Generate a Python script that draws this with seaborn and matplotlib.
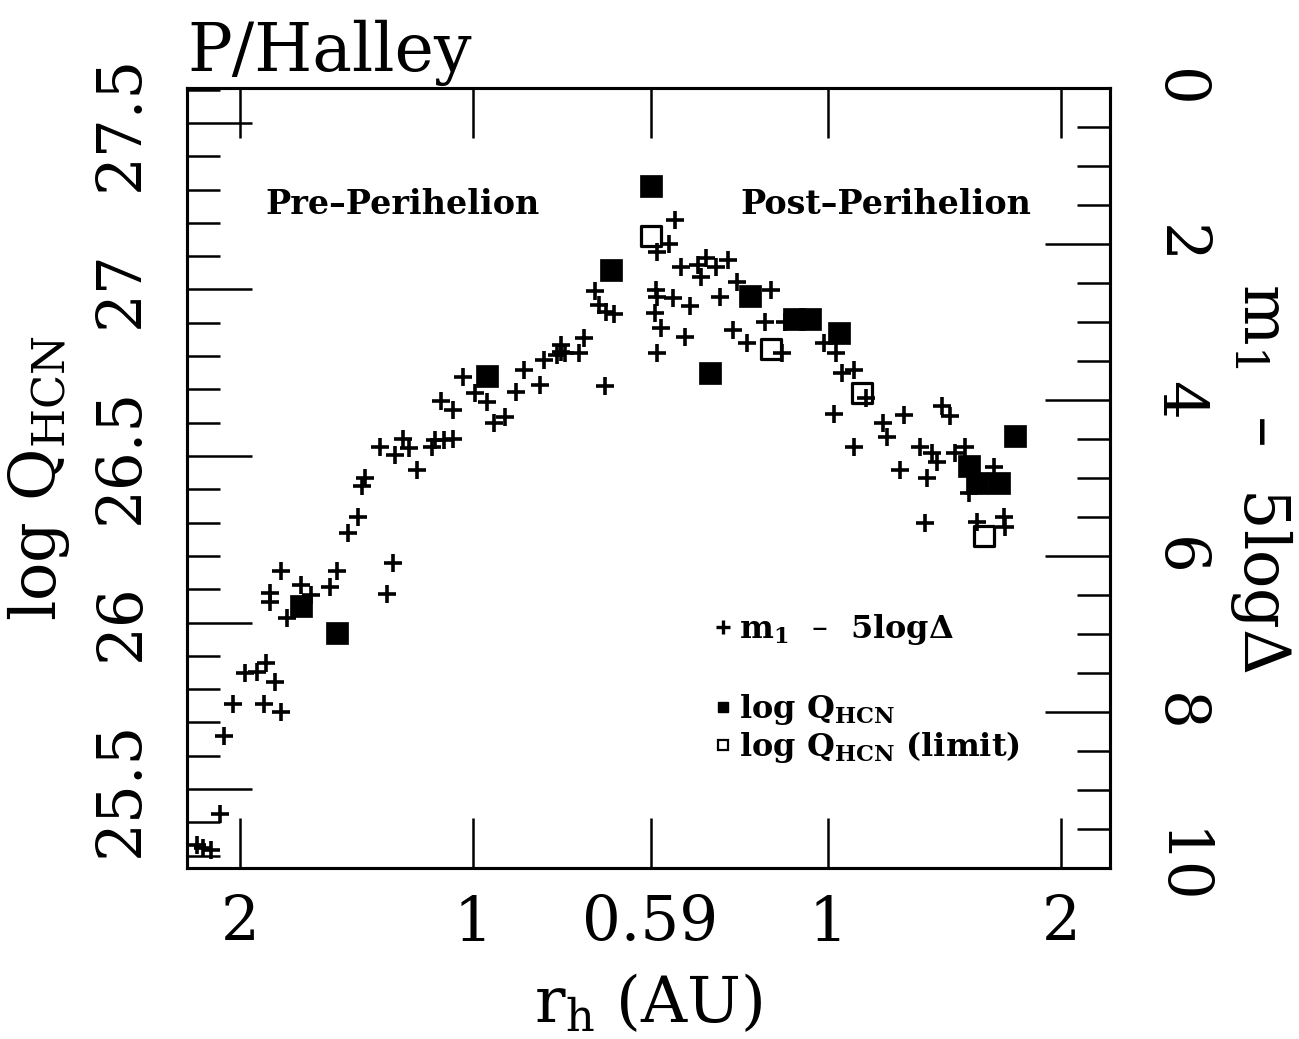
import numpy as np
import pandas as pd
import matplotlib
matplotlib.use("Agg")
import matplotlib.pyplot as plt
import seaborn as sns
from matplotlib.ticker import MultipleLocator, NullLocator, FuncFormatter
from matplotlib.lines import Line2D

sns.set_theme(style="ticks")
plt.rcParams["font.family"] = ["DejaVu Serif"]
plt.rcParams["mathtext.default"] = "regular"
plt.rcParams["axes.edgecolor"] = "black"
plt.rcParams["text.color"] = "black"
plt.rcParams["axes.labelcolor"] = "black"
plt.rcParams["xtick.color"] = "black"
plt.rcParams["ytick.color"] = "black"

# perihelion distance (AU), used to fold the two branches onto one axis
R_PERI = 0.59

# --- m1 - 5 log(Delta), pre-perihelion
pre_mag_r = [2.27, 2.23, 2.18, 2.12, 2.10, 2.04, 1.86, 1.77, 1.97, 1.90, 1.85, 1.80,
             1.74, 1.83, 1.83, 1.77, 1.67, 1.62, 1.53, 1.50, 1.29, 1.27, 1.45, 1.41,
             1.39, 1.38, 1.32, 1.26, 1.23, 1.21, 1.18, 1.13, 1.12, 1.09, 1.06, 1.10,
             1.06, 1.03, 0.995, 0.96, 0.94, 0.91, 0.88, 0.86, 0.82, 0.81, 0.78, 0.77,
             0.77, 0.76, 0.73, 0.72, 0.695, 0.687, 0.673, 0.658, 0.676]
pre_mag = [9.71, 9.74, 9.77, 9.31, 8.31, 7.90, 7.90, 8.00, 7.50, 7.49, 7.37, 7.62,
           6.79, 6.47, 6.59, 6.19, 6.37, 6.50, 6.40, 6.19, 6.49, 6.09, 5.71, 5.50,
           5.10, 5.00, 4.60, 4.71, 4.50, 4.62, 4.90, 4.60, 4.51, 4.51, 4.50, 4.01,
           4.13, 3.71, 3.91, 4.03, 4.29, 4.22, 3.90, 3.62, 3.81, 3.49, 3.42, 3.38,
           3.29, 3.40, 3.40, 3.21, 2.60, 2.78, 2.87, 2.90, 3.82]

# --- m1 - 5 log(Delta), post-perihelion
post_mag_r = [0.635, 0.624, 0.602, 0.645, 0.679, 0.695, 0.716, 0.685, 0.742, 0.764,
              0.599, 0.602, 0.630, 0.663, 0.726, 0.597, 0.608, 0.653, 0.602, 0.753,
              0.843, 0.828, 0.879, 0.787, 0.873, 0.989, 1.025, 1.044, 1.082, 1.019,
              1.176, 1.193, 1.255, 1.082, 1.405, 1.438, 1.316, 1.364, 1.384, 1.237,
              1.343, 1.504, 1.460, 1.640, 1.522, 1.336, 1.559, 1.689, 1.693, 1.118]
post_mag = [1.69, 2.00, 2.10, 2.29, 2.27, 2.18, 2.29, 2.42, 2.21, 2.49,
            2.59, 2.68, 2.69, 2.79, 2.68, 2.88, 3.08, 3.19, 3.40, 3.10,
            2.59, 3.00, 3.00, 3.27, 3.40, 3.27, 3.40, 3.65, 3.62, 4.18,
            4.29, 4.47, 4.19, 4.60, 4.08, 4.21, 4.60, 4.68, 4.79, 4.90,
            5.00, 4.60, 4.68, 4.86, 5.19, 5.58, 5.56, 5.50, 5.63, 3.97]

# --- log Q(HCN) detections
pre_q_r = [1.67, 1.50, 0.96, 0.664, 0.59]
pre_q = [26.05, 25.97, 26.74, 27.06, 27.31]
post_q_r = [0.705, 0.792, 0.905, 0.949, 1.034, 1.522, 1.559, 1.664, 1.745]
post_q = [26.75, 26.98, 26.91, 26.91, 26.87, 26.47, 26.42, 26.42, 26.56]

# --- log Q(HCN) limits (post-perihelion)
lim_q_r = [0.59, 0.843, 1.108, 1.592]
lim_q = [27.16, 26.82, 26.69, 26.26]

# x ticks: heliocentric distance on both branches
tick_r = [2, 1, 0.59, 1, 2]
tick_side = [-1, -1, 0, 1, 1]
tick_text = ["2", "1", "0.59", "1", "2"]


def fold(r, side):
    """signed log distance from perihelion: pre < 0 < post"""
    return side * np.log10(np.asarray(r, dtype=float) / R_PERI)


mag_df = pd.concat([
    pd.DataFrame({"x": fold(pre_mag_r, -1), "m": pre_mag}),
    pd.DataFrame({"x": fold(post_mag_r, 1), "m": post_mag}),
], ignore_index=True)
q_df = pd.concat([
    pd.DataFrame({"x": fold(pre_q_r, -1), "q": pre_q}),
    pd.DataFrame({"x": fold(post_q_r, 1), "q": post_q}),
], ignore_index=True)
lim_df = pd.DataFrame({"x": fold(lim_q_r, 1), "q": lim_q})

fig = plt.figure(figsize=(12.99, 10.39), dpi=100)
ax = fig.add_axes([0.144, 0.1646, 0.7105, 0.7507])
ax2 = ax.twinx()

sns.scatterplot(data=q_df, x="x", y="q", marker="s", s=256, color="black",
                edgecolor="black", linewidth=0.5, ax=ax, legend=False, zorder=3)
sns.scatterplot(data=lim_df, x="x", y="q", marker="s", s=196, facecolor="white",
                edgecolor="black", linewidth=2.3, ax=ax, legend=False, zorder=3)
sns.scatterplot(data=mag_df, x="x", y="m", marker="+", s=150, color="black",
                linewidth=2.6, ax=ax2, legend=False, zorder=2)

# x axis
ax.set_xlim(-0.5985, 0.5933)
ax.set_xticks([float(fold(r, s)) if s else 0.0 for r, s in zip(tick_r, tick_side)])
ax.set_xticklabels(tick_text)
ax.xaxis.set_minor_locator(NullLocator())
ax.tick_params(axis="x", which="major", direction="in", length=36, width=1.8,
               top=True, bottom=True, labelsize=44, pad=18, color="black")

# left axis
ax.set_ylim(25.263, 27.605)
ax.yaxis.set_major_locator(MultipleLocator(0.5))
ax.yaxis.set_minor_locator(MultipleLocator(0.1))
ax.yaxis.set_major_formatter(FuncFormatter(lambda v, p: f"{v:g}"))
ax.tick_params(axis="y", which="major", direction="in", length=47, width=1.8,
               labelsize=44, pad=26, labelrotation=90, color="black")
ax.tick_params(axis="y", which="minor", direction="in", length=24, width=1.8, color="black")
for lab in ax.get_yticklabels():
    lab.set_va("center")

# right axis
ax2.set_ylim(10, 0)
ax2.yaxis.set_major_locator(MultipleLocator(2))
ax2.yaxis.set_minor_locator(MultipleLocator(0.5))
ax2.tick_params(axis="y", which="major", direction="in", length=47, width=1.8,
                labelsize=44, pad=28, labelrotation=270, color="black")
ax2.tick_params(axis="y", which="minor", direction="in", length=24, width=1.8, color="black")
for lab in ax2.get_yticklabels():
    lab.set_va("center")

for a in (ax, ax2):
    for sp in a.spines.values():
        sp.set_linewidth(2.2)
        sp.set_color("black")

ax.set_xlabel(r"r$_{h}$ (AU)", fontsize=46, labelpad=14)
ax.set_ylabel(r"log Q$_{HCN}$", fontsize=46, labelpad=14)
ax2.set_ylabel("m$_{1}$  \u2013  5logΔ", fontsize=46, rotation=270, va="bottom", labelpad=14)
ax.set_title("P/Halley", loc="left", fontsize=48, pad=12)

bold = {"family": "DejaVu Serif", "weight": "bold", "size": 24}
ax.text(0.233, 0.85, "Pre\u2013Perihelion", transform=ax.transAxes, ha="center",
        va="center", fontdict=bold)
ax.text(0.757, 0.85, "Post\u2013Perihelion", transform=ax.transAxes, ha="center",
        va="center", fontdict=bold)

# legend
leg_font = {"family": "DejaVu Serif", "weight": "bold", "size": 23}
h_mag = [Line2D([], [], marker="+", ls="none", color="black", ms=10, mew=2.4,
                label="m$_{1}$  \u2013  5logΔ")]
leg1 = ax2.legend(handles=h_mag, loc="upper left", bbox_to_anchor=(0.572, 0.328),
                  frameon=False, prop=leg_font, handlelength=0.5, handletextpad=0.25,
                  borderpad=0, borderaxespad=0)
ax2.add_artist(leg1)
h_q = [Line2D([], [], marker="s", ls="none", color="black", ms=7, label=r"log Q$_{HCN}$"),
       Line2D([], [], marker="s", ls="none", mfc="white", mec="black", ms=7, mew=1.6,
              label=r"log Q$_{HCN}$ (limit)")]
ax2.legend(handles=h_q, loc="upper left", bbox_to_anchor=(0.572, 0.225),
           frameon=False, prop=leg_font, handlelength=0.5, handletextpad=0.25,
           borderpad=0, borderaxespad=0, labelspacing=0.05)

fig.savefig("out.png", dpi=100)
